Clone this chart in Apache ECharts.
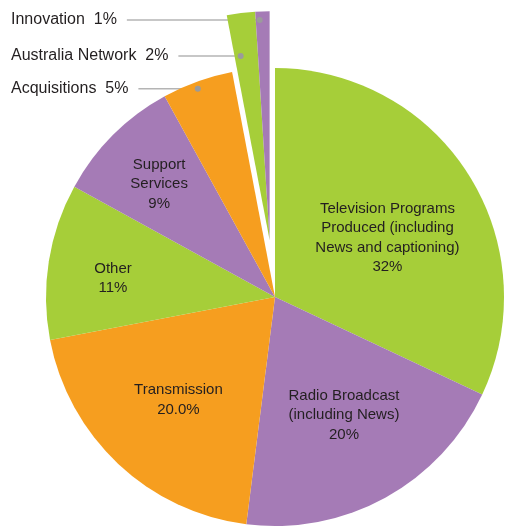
<!DOCTYPE html>
<html>
<head>
<meta charset="utf-8">
<script src="https://cdn.jsdelivr.net/npm/echarts@6/dist/echarts.min.js"></script>
<style>
  html, body { margin: 0; padding: 0; background: #ffffff; }
  #chart { width: 507px; height: 527px; }
</style>
</head>
<body>
<div id="chart"></div>
<script>
// Budget split, clockwise from 12 o'clock
const categories = [
  'Television Programs\nProduced (including\nNews and captioning)',
  'Radio Broadcast\n(including News)',
  'Transmission',
  'Other',
  'Support\nServices',
  'Acquisitions',
  'Australia Network',
  'Innovation'
];
const shares = [32, 20, 20, 11, 9, 5, 2, 1];
const shareDecimals = [0, 0, 1, 0, 0, 0, 0, 0];
const pulledOut = [false, false, false, false, false, false, true, true];
const calloutSlices = [5, 6, 7];

const GREEN = '#a6ce39', PURPLE = '#a57bb6', ORANGE = '#f69e1f';
const sliceColors = [GREEN, PURPLE, ORANGE, GREEN, PURPLE, ORANGE, GREEN, PURPLE];
const CLEAR = 'rgba(0,0,0,0)';

// Geometry
const CX = 275, CY = 297, R = 229, PULL = 57;
const TEXT = '#231f20', LEADER = '#b4b4b4', DOT = '#9b9b9b';
const FONT = '"Liberation Sans", Arial, Helvetica, sans-serif';

const total = shares.reduce((a, b) => a + b, 0);
const startDeg = [];
let acc = 0;
shares.forEach(v => { startDeg.push(acc / total * 360); acc += v; });
const spanDeg = shares.map(v => v / total * 360);
const midDeg = startDeg.map((s, i) => s + spanDeg[i] / 2);

function polar(ox, oy, r, deg) {
  const t = deg * Math.PI / 180;
  return [ox + r * Math.sin(t), oy - r * Math.cos(t)];
}

// The pulled-out wedges move together along their common bisector
const firstPulled = pulledOut.indexOf(true);
const lastPulled = pulledOut.lastIndexOf(true);
const pullDir = (startDeg[firstPulled] + startDeg[lastPulled] + spanDeg[lastPulled]) / 2;
const pulledCenter = polar(CX, CY, PULL, pullDir);

// Inside label placement: radius fraction and small angular nudge
const insideRadius = [0.555, 0.597, 0.616, 0.712, 0.707];
const insideTurn = [4.6, -1.5, 0, -2.5, -0.7];

// Callout anchors: position within the slice (angle fraction, radius fraction)
const calloutFrac = [0.47, 0.26, 0.28];
const calloutRadial = [0.97, 0.815, 0.963];
const OUT_LEFT = 11;

const anchors = {};
calloutSlices.forEach((idx, k) => {
  const origin = pulledOut[idx] ? pulledCenter : [CX, CY];
  anchors[idx] = polar(origin[0], origin[1], calloutRadial[k] * R,
                       startDeg[idx] + calloutFrac[k] * spanDeg[idx]);
});

function pctText(i, v) { return v.toFixed(shareDecimals[i]) + '%'; }

const mainData = categories.map((name, i) => {
  const callout = calloutSlices.indexOf(i) >= 0;
  return {
    name: name,
    value: shares[i],
    itemStyle: { color: pulledOut[i] ? CLEAR : sliceColors[i] },
    label: callout
      ? { position: 'outside', fontSize: 16 }
      : { position: 'inside', fontSize: 15 },
    labelLine: { show: callout }
  };
});

const pulledData = categories.map((name, i) => ({
  name: name,
  value: shares[i],
  itemStyle: { color: pulledOut[i] ? sliceColors[i] : CLEAR }
}));

const chart = echarts.init(document.getElementById('chart'), null, { renderer: 'canvas' });

chart.setOption({
  animation: false,
  backgroundColor: '#ffffff',
  graphic: calloutSlices.map(idx => ({
    type: 'circle',
    z: 100,
    shape: { cx: anchors[idx][0], cy: anchors[idx][1], r: 3 },
    style: { fill: DOT }
  })),
  series: [
    {
      type: 'pie',
      center: [CX, CY],
      radius: [0, R],
      startAngle: 90,
      clockwise: true,
      avoidLabelOverlap: false,
      silent: true,
      data: mainData,
      label: {
        show: true,
        color: TEXT,
        fontFamily: FONT,
        fontWeight: 'normal',
        textBorderWidth: 0,
        textBorderColor: 'transparent',
        lineHeight: 19.5,
        formatter: p => calloutSlices.indexOf(p.dataIndex) >= 0
          ? p.name + '  ' + pctText(p.dataIndex, p.value)
          : p.name + '\n' + pctText(p.dataIndex, p.value)
      },
      labelLine: {
        lineStyle: { color: LEADER, width: 1.5 }
      },
      labelLayout: function (p) {
        const i = p.dataIndex;
        if (calloutSlices.indexOf(i) >= 0) {
          const a = anchors[i];
          const endX = OUT_LEFT + p.labelRect.width + 10;
          return {
            x: OUT_LEFT,
            y: a[1],
            align: 'left',
            verticalAlign: 'middle',
            labelLinePoints: [[a[0], a[1]], [endX, a[1]], [endX, a[1]]]
          };
        }
        const pos = polar(CX, CY, insideRadius[i] * R, midDeg[i] + insideTurn[i]);
        return { x: pos[0], y: pos[1], align: 'center', verticalAlign: 'middle' };
      }
    },
    {
      type: 'pie',
      center: pulledCenter,
      radius: [0, R],
      startAngle: 90,
      clockwise: true,
      silent: true,
      data: pulledData,
      label: { show: false },
      labelLine: { show: false }
    }
  ]
});
</script>
</body>
</html>
